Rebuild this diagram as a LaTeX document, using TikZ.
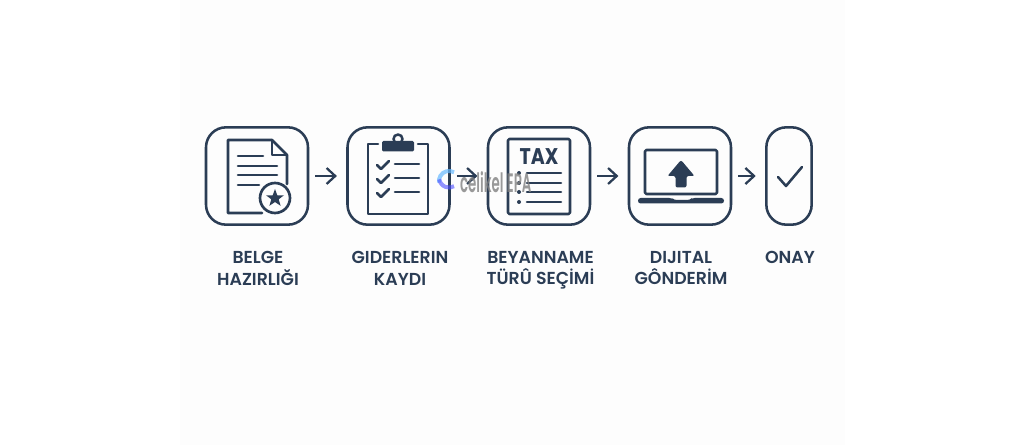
\documentclass[tikz,border=0pt]{standalone}
\usepackage{fontspec}
\setmainfont{Poppins}
\newfontfamily\labelfont{Poppins SemiBold}
\usetikzlibrary{positioning}
\usetikzlibrary{arrows.meta}
\definecolor{navy}{HTML}{2B3D55}
\definecolor{panel}{HTML}{FDFDFD}
\tikzset{
  iconbox/.style={draw=navy,line width=1.9pt,rounded corners=15pt,minimum height=73pt,inner sep=0pt},
  flowarrow/.style={draw=navy,line width=1.7pt,-{Straight Barb[length=6.5pt,width=12pt,line width=1.7pt]},shorten <=4.5pt,shorten >=7pt},
  iconline/.style={draw=navy,line width=1.9pt,line cap=round,line join=round},
  steplabel/.style={font=\labelfont\fontsize{13pt}{15.8pt}\selectfont,text=navy,align=center,anchor=north},
}
\begin{document}
\begin{tikzpicture}[x=0.75pt,y=-0.75pt]
\useasboundingbox (0,0) rectangle (1024,445);
\fill[white] (0,0) rectangle (1024,445);
\fill[panel] (180,0) rectangle (845,445);

\node[iconbox,minimum width=76.5pt] (belge) at (257,176) {};
\node[iconbox,minimum width=76.5pt] (gider) at (398.5,176) {};
\node[iconbox,minimum width=76.5pt] (beyan) at (539,176) {};
\node[iconbox,minimum width=76.5pt] (dijital) at (680,176) {};
\node[iconbox,minimum width=34pt] (onay) at (789,176) {};

\draw[flowarrow] (belge) -- (gider);
\draw[flowarrow] (gider) -- (beyan);
\draw[flowarrow] (beyan) -- (dijital);
\draw[flowarrow] (dijital) -- (onay);

% document with star
\draw[iconline] (262,213) -- (228,213) -- (228,140) -- (272,140) -- (287,155) -- (287,184);
\draw[iconline] (272,140) -- (272,155) -- (287,155);
\draw[iconline] (238,156) -- (263,156);
\draw[iconline] (238,166) -- (277,166);
\draw[iconline] (238,175) -- (277,175);
\draw[iconline] (238,185) -- (259,185);
\draw[iconline,line width=2pt] (275,198) circle (15);
\fill[navy] (275,189) -- (277.3,195.3) -- (284,195.3) -- (278.7,199.3) -- (280.6,205.8) -- (275,202) -- (269.4,205.8) -- (271.3,199.3) -- (266,195.3) -- (272.7,195.3) -- cycle;

% clipboard
\draw[iconline] (378,144) -- (368,144) -- (368,214) -- (428,214) -- (428,144) -- (418,144);
\draw[iconline] (398,139) circle (4.5);
\fill[navy,rounded corners=1pt] (382,141) rectangle (414,151.5);
\foreach \y in {164,178,192} {
  \draw[iconline] (395,\y) -- (419,\y);
  \draw[iconline,line width=2pt] (377,\y+1) -- (381,\y+5) -- (389,\y-3);
}

% tax form
\draw[iconline,rounded corners=1pt] (508,139) rectangle (570,214);
\node[font=\fontsize{17pt}{17pt}\selectfont\bfseries,text=navy,xscale=.84] (tax) at (539,157) {TAX};
\foreach \y in {173,183,192,202} {
  \draw[iconline] (527,\y) -- (561,\y);
  \fill[navy] (519,\y) circle (2);
}

% laptop
\draw[iconline,rounded corners=1pt] (645,150) rectangle (717,194);
\fill[navy,rounded corners=2pt] (638,198) -- (672,198) -- (674,200) -- (690,200) -- (692,198) -- (724,198) -- (724,203.5) -- (638,203.5) -- cycle;
\fill[navy,rounded corners=1.5pt] (681,160) -- (694.5,176) -- (686.5,176) -- (686.5,187.5) -- (675.5,187.5) -- (675.5,176) -- (667.5,176) -- cycle;

% check mark
\draw[iconline] (778,177) -- (786,186) -- (802,167);

\node[steplabel] (belgetxt) at (258,247) {BELGE\\HAZIRLIĞI};
\node[steplabel] (gidertxt) at (400,247) {GIDERLERIN\\KAYDI};
\node[steplabel] (beyantxt) at (540.5,247) {BEYANNAME\\TÜRÛ SEÇİMİ};
\node[steplabel] (dijitaltxt) at (681,247) {DIJITAL\\GÔNDERİM};
\node[steplabel] (onaytxt) at (790,247) {ONAY};

% watermark
\draw[blue!45!cyan!60,opacity=.7,line width=3pt] (454,172.3) arc (-60:-190:10);
\draw[blue!70,opacity=.6,line width=3pt] (439.2,179.3) arc (-190:-300:10);
\node[font=\labelfont\fontsize{20pt}{20pt}\selectfont,text=black!50,opacity=.8,xscale=.5,inner sep=0pt,anchor=west] (mark) at (460,182) {celikel EPA};
\end{tikzpicture}
\end{document}
